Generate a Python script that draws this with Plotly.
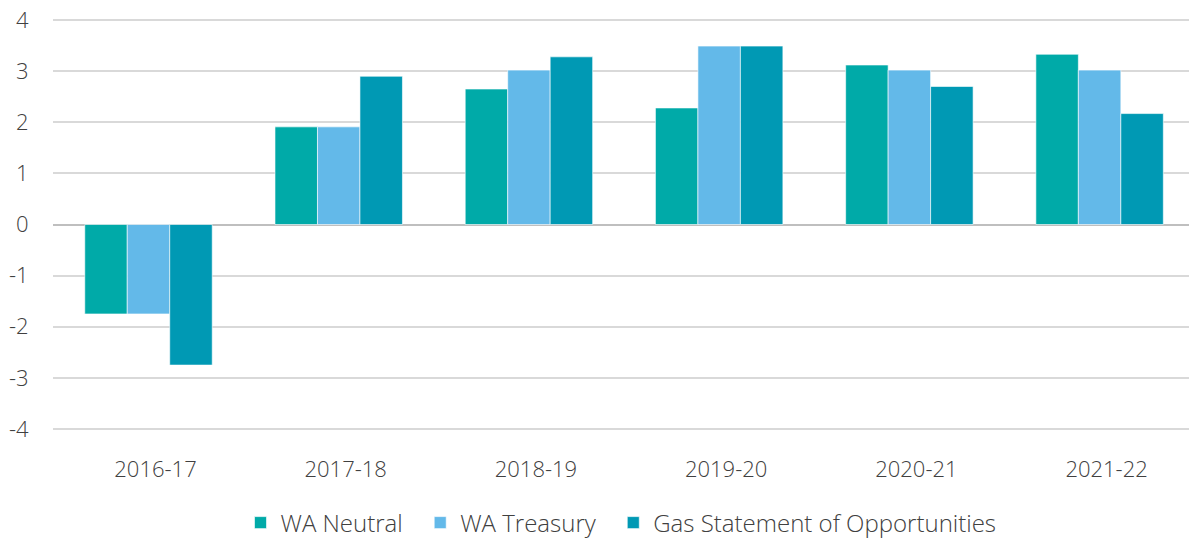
import plotly.graph_objects as go

categories = ["2016-17", "2017-18", "2018-19", "2019-20", "2020-21", "2021-22"]
wa_neutral = [-1.75, 1.91, 2.65, 2.28, 3.12, 3.33]
wa_treasury = [-1.75, 1.91, 3.02, 3.49, 3.02, 3.02]
gsoo = [-2.75, 2.90, 3.28, 3.49, 2.70, 2.17]
series_names = ["WA Neutral", "WA Treasury", "Gas Statement of Opportunities"]
colors = ["#00AAA8", "#63B9E9", "#0099B4"]
y_ticks = [-4, -3, -2, -1, 0, 1, 2, 3, 4]

FONT = "Open Sans"
W, H = 1189, 539
fig = go.Figure()
for i, (name, vals, col) in enumerate(zip(series_names, [wa_neutral, wa_treasury, gsoo], colors)):
    label = name + ("\u00a0\u00a0" if i < len(series_names) - 1 else "")
    fig.add_trace(go.Bar(
        x=categories, y=vals, name=label,
        marker=dict(color=col, line=dict(color="rgba(255,255,255,0.6)", width=1)),
    ))

fig.update_layout(
    width=W, height=H,
    paper_bgcolor="white", plot_bgcolor="white",
    margin=dict(l=53, r=0, t=19, b=109, autoexpand=False),
    barmode="group", bargap=0.33, bargroupgap=0,
    font=dict(family=FONT, size=22, color="#404040", weight=300),
    showlegend=True,
    legend=dict(orientation="h", x=0.5, xanchor="center",
                yref="container", y=1 - 523 / H, yanchor="middle",
                font=dict(family=FONT, size=24, color="#404040", weight=300),
                itemwidth=30, traceorder="normal", bgcolor="rgba(0,0,0,0)"),
    xaxis=dict(
        type="category", showgrid=False, zeroline=False, showline=False,
        range=[-0.502, 5.47], automargin=False,
        ticks="outside", ticklen=20, tickcolor="rgba(0,0,0,0)",
        ticklabelshift=7,
        tickfont=dict(family=FONT, size=22, color="#404040", weight=300),
    ),
    yaxis=dict(
        range=[-4.02, 4.02], tickvals=y_ticks, ticktext=[str(v) for v in y_ticks],
        automargin=False, ticklabeloverflow="allow",
        showgrid=True, gridcolor="#D9D9D9", gridwidth=1.5,
        zeroline=True, zerolinecolor="#BFBFBF", zerolinewidth=2,
        showline=False, ticks="outside", ticklen=19, tickcolor="rgba(0,0,0,0)",
        tickfont=dict(family=FONT, size=22, color="#404040", weight=300),
    ),
)

# remove the browser's default 8px body margin so the figure fills the window exactly
fig.write_html("out.html",
               config={"displayModeBar": False},
               post_script="document.body.style.margin='0';document.body.style.overflow='hidden';")
